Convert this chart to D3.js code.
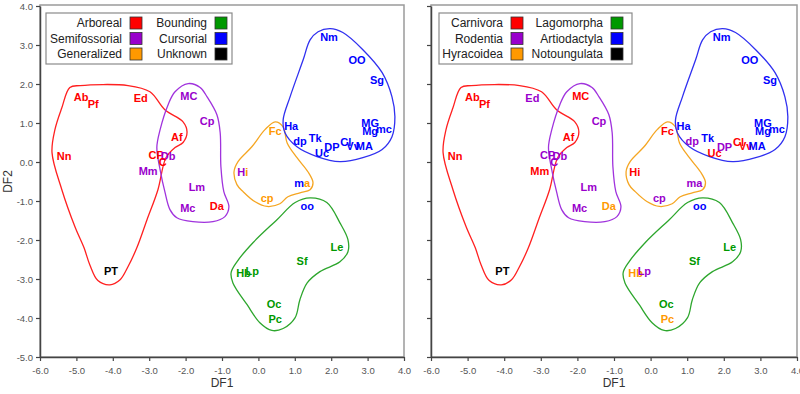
<!DOCTYPE html>
<html>
<head>
<meta charset="utf-8">
<script src="https://cdn.jsdelivr.net/npm/d3@7"></script>
<style>
  body { margin: 0; background: #fff; }
  text { font-family: "Liberation Sans", Arial, sans-serif; }
</style>
</head>
<body>
<script>
var width = 800,
    height = 394;

// specimen labels with DF1 / DF2 scores
var names = ['Ab', 'Pf', 'Ed', 'MC', 'Cp', 'Af', 'Nn', 'CP', 'Db', 'C', 'Mm', 'Lm', 'Mc', 'Da',
    'Hi', 'Fc', 'cp', 'ma', 'Ha', 'dp', 'Tk', 'Uc', 'DP', 'Cl', 'Vv', 'MA', 'MG', 'Mg', 'mc',
    'Sg', 'OO', 'Nm', 'oo', 'Le', 'Sf', 'Hb', 'Lp', 'Oc', 'Pc', 'PT'];
var df1 = [-4.87, -4.54, -3.23, -1.91, -1.41, -2.24, -5.34, -2.81, -2.48, -2.63, -3.03, -1.69, -1.94, -1.14,
    -0.43, 0.46, 0.24, 1.20, 0.90, 1.14, 1.56, 1.75, 2.02, 2.40, 2.60, 2.91, 3.07, 3.07, 3.45,
    3.26, 2.71, 1.94, 1.34, 2.16, 1.20, -0.41, -0.17, 0.43, 0.46, -4.05];
var df2 = [1.67, 1.49, 1.65, 1.70, 1.06, 0.65, 0.16, 0.19, 0.16, 0.01, -0.22, -0.63, -1.17, -1.12,
    -0.27, 0.80, -0.92, -0.53, 0.91, 0.55, 0.62, 0.24, 0.39, 0.50, 0.40, 0.42, 1.00, 0.80, 0.85,
    2.09, 2.62, 3.21, -1.14, -2.17, -2.53, -2.84, -2.80, -3.64, -4.02, -2.79];
var locomotion = ['Arboreal', 'Arboreal', 'Arboreal', 'Semifossorial', 'Semifossorial', 'Arboreal', 'Arboreal',
    'Arboreal', 'Semifossorial', 'Arboreal', 'Semifossorial', 'Semifossorial', 'Semifossorial', 'Arboreal',
    'Semifossorial', 'Generalized', 'Generalized', 'Cursorial', 'Cursorial', 'Cursorial', 'Cursorial',
    'Cursorial', 'Cursorial', 'Cursorial', 'Cursorial', 'Cursorial', 'Cursorial', 'Cursorial', 'Cursorial',
    'Cursorial', 'Cursorial', 'Cursorial', 'Cursorial', 'Bounding', 'Bounding', 'Bounding', 'Bounding',
    'Bounding', 'Bounding', 'Unknown'];
var taxon = ['Carnivora', 'Carnivora', 'Rodentia', 'Carnivora', 'Rodentia', 'Carnivora', 'Carnivora',
    'Rodentia', 'Rodentia', 'Rodentia', 'Carnivora', 'Rodentia', 'Rodentia', 'Hyracoidea',
    'Carnivora', 'Carnivora', 'Rodentia', 'Rodentia', 'Artiodactyla', 'Rodentia', 'Artiodactyla',
    'Carnivora', 'Rodentia', 'Carnivora', 'Carnivora', 'Artiodactyla', 'Artiodactyla', 'Artiodactyla',
    'Artiodactyla', 'Artiodactyla', 'Artiodactyla', 'Artiodactyla', 'Artiodactyla', 'Lagomorpha',
    'Lagomorpha', 'Hyracoidea', 'Rodentia', 'Lagomorpha', 'Hyracoidea', 'Notoungulata'];
// labels whose tail letters sit under another group's colour in the locomotion panel
var splitNames = ['Hi', 'ma'];
var splitAt = [1, 1];
var splitLoc = ['Generalized', 'Generalized'];

var locGroups = ['Arboreal', 'Semifossorial', 'Generalized', 'Bounding', 'Cursorial', 'Unknown'];
var taxGroups = ['Carnivora', 'Rodentia', 'Hyracoidea', 'Lagomorpha', 'Artiodactyla', 'Notoungulata'];
var groupColors = ['#ff0000', '#9900cc', '#ff9900', '#009900', '#0000ff', '#000000'];
var hullColors = ['#ff2020', '#a033dd', '#f5a623', '#2da62d', '#3030f0'];

// outlines of the locomotion groups (DF1, DF2)
var hullRed = [[-5.18, 1.91], [-4.90, 1.96], [-3.58, 1.96], [-2.98, 1.80], [-2.57, 1.34], [-2.07, 1.03],
    [-1.96, 0.77], [-2.07, 0.50], [-2.29, 0.37], [-2.54, 0.11], [-2.76, -0.71], [-3.06, -1.48],
    [-3.34, -2.20], [-3.58, -2.68], [-3.80, -3.02], [-4.08, -3.15], [-4.41, -3.04], [-4.63, -2.64],
    [-4.79, -2.20], [-5.04, -1.66], [-5.40, -0.71], [-5.67, 0.24], [-5.59, 0.83], [-5.40, 1.39]];
var hullPurple = [[-1.93, 2.01], [-1.60, 1.91], [-1.41, 1.67], [-1.14, 1.21], [-1.05, 0.75], [-1.03, -0.12],
    [-0.95, -0.76], [-0.81, -1.15], [-0.92, -1.40], [-1.25, -1.53], [-1.80, -1.53], [-2.24, -1.43],
    [-2.43, -1.22], [-2.57, -0.76], [-2.70, -0.20], [-2.79, 0.37], [-2.70, 0.83], [-2.48, 1.47], [-2.29, 1.80]];
var hullOrange = [[0.46, 1.03], [0.68, 0.90], [0.79, 0.49], [1.06, 0.11], [1.36, -0.25], [1.50, -0.53],
    [1.42, -0.71], [1.14, -0.79], [0.81, -0.89], [0.59, -1.07], [0.24, -1.14], [-0.09, -1.02],
    [-0.42, -0.76], [-0.59, -0.58], [-0.67, -0.25], [-0.56, 0.01], [-0.18, 0.39], [0.18, 0.83]];
var hullGreen = [[1.42, -0.92], [1.88, -1.04], [2.24, -1.56], [2.46, -1.99], [2.46, -2.30], [2.24, -2.56],
    [1.69, -2.81], [1.34, -3.10], [1.14, -3.53], [1.01, -3.99], [0.68, -4.27], [0.37, -4.32],
    [0.04, -4.12], [-0.31, -3.66], [-0.70, -3.10], [-0.75, -2.84], [-0.59, -2.56], [-0.15, -2.07],
    [0.51, -1.48], [1.01, -1.04]];
var hullBlue = [[1.97, 3.42], [2.32, 3.32], [2.87, 2.88], [3.40, 2.29], [3.67, 1.67], [3.75, 1.16],
    [3.67, 0.65], [3.40, 0.32], [2.87, 0.11], [2.24, 0.01], [1.61, 0.14], [1.06, 0.39], [0.73, 0.75],
    [0.68, 1.08], [0.87, 1.67], [1.23, 2.62], [1.42, 3.13], [1.64, 3.34]];
var hulls = [hullRed, hullPurple, hullOrange, hullGreen, hullBlue];

var xTicks = [-6, -5, -4, -3, -2, -1, 0, 1, 2, 3, 4];
var yTicks = [-5, -4, -3, -2, -1, 0, 1, 2, 3, 4];

var svg = d3.select('body')
    .append('svg')
    .attr('width', width)
    .attr('height', height);

var panels = [
    { left: 40, right: 404, groups: locGroups, key: locomotion, yLabels: true,
      legend: { x0: 46, x1: 232, col1: 122, col2: 207 }, split: true },
    { left: 431, right: 797, groups: taxGroups, key: taxon, yLabels: false,
      legend: { x0: 439, x1: 632, col1: 503, col2: 603 }, split: false }
];

var plotTop = 6, plotBottom = 357;
var fmt = function (v) { return d3.format('.1f')(v).replace('\u2212', '-'); };

panels.forEach(function (p) {
    var x = d3.scaleLinear().domain([-6, 4]).range([p.left, p.right]);
    var y = d3.scaleLinear().domain([-5, 4]).range([plotBottom, plotTop]);
    var color = d3.scaleOrdinal().domain(p.groups).range(groupColors);
    var g = svg.append('g');

    // frame
    g.append('rect')
        .attr('x', p.left)
        .attr('y', plotTop - 1)
        .attr('width', p.right - p.left)
        .attr('height', plotBottom - plotTop + 1)
        .attr('fill', 'none')
        .attr('stroke', '#9a9a9a')
        .attr('stroke-width', 1.5);

    var xAxis = g.append('g')
        .attr('transform', 'translate(0,' + plotBottom + ')')
        .call(d3.axisBottom(x).tickValues(xTicks).tickFormat(fmt).tickSize(4).tickSizeOuter(0));
    var yAxis = g.append('g')
        .attr('transform', 'translate(' + p.left + ',0)')
        .call(d3.axisLeft(y).tickValues(yTicks).tickSize(4).tickSizeOuter(0)
            .tickFormat(p.yLabels ? fmt : ''));
    [xAxis, yAxis].forEach(function (a) {
        a.select('.domain').attr('stroke', '#444').attr('stroke-width', 1.5);
        a.selectAll('.tick line').attr('stroke', '#444').attr('stroke-width', 1.2);
        a.selectAll('.tick text')
            .attr('fill', '#555')
            .style('font-size', '9.5px')
            .style('font-family', '"Liberation Sans", Arial, sans-serif');
    });
    xAxis.selectAll('.tick text').attr('dy', '1.05em');

    g.append('text')
        .attr('x', (p.left + p.right) / 2)
        .attr('y', 387)
        .attr('text-anchor', 'middle')
        .attr('fill', '#333')
        .style('font-size', '12px')
        .text('DF1');
    if (p.yLabels) {
        g.append('text')
            .attr('transform', 'translate(12,' + (plotTop + plotBottom) / 2 + ') rotate(-90)')
            .attr('text-anchor', 'middle')
            .attr('fill', '#333')
            .style('font-size', '12px')
            .text('DF2');
    }

    // group outlines
    var line = d3.line()
        .x(function (d) { return x(d[0]); })
        .y(function (d) { return y(d[1]); })
        .curve(d3.curveCatmullRomClosed.alpha(0.5));
    g.selectAll('path.hull')
        .data(hulls)
        .enter()
        .append('path')
        .attr('class', 'hull')
        .attr('d', line)
        .attr('fill', 'none')
        .attr('stroke', function (d, i) { return hullColors[i]; })
        .attr('stroke-width', 1.3);

    // specimen labels
    var labels = g.selectAll('text.spec')
        .data(names)
        .enter()
        .append('text')
        .attr('class', 'spec')
        .attr('x', function (d, i) { return x(df1[i]); })
        .attr('y', function (d, i) { return y(df2[i]); })
        .attr('dy', '0.36em')
        .attr('text-anchor', 'middle')
        .attr('fill', function (d, i) { return color(p.key[i]); })
        .style('font-size', '11px')
        .style('font-weight', 'bold');
    labels.each(function (d) {
        var el = d3.select(this);
        var s = splitNames.indexOf(d);
        if (p.split && s >= 0) {
            el.append('tspan').text(d.slice(0, splitAt[s]));
            el.append('tspan').attr('fill', color(splitLoc[s])).text(d.slice(splitAt[s]));
        } else {
            el.text(d);
        }
    });

    // legend
    var L = p.legend;
    g.append('rect')
        .attr('x', L.x0)
        .attr('y', 13)
        .attr('width', L.x1 - L.x0)
        .attr('height', 51)
        .attr('fill', '#fff')
        .attr('stroke', '#8a8a8a')
        .attr('stroke-width', 1.2);
    var item = g.selectAll('g.leg')
        .data(p.groups)
        .enter()
        .append('g')
        .attr('class', 'leg')
        .attr('transform', function (d, i) {
            return 'translate(' + (i < 3 ? L.col1 : L.col2) + ',' + (23 + (i % 3) * 15.5) + ')';
        });
    item.append('text')
        .attr('text-anchor', 'end')
        .attr('dy', '0.36em')
        .attr('fill', '#222')
        .style('font-size', '12px')
        .text(function (d) { return d; });
    item.append('rect')
        .attr('x', 8)
        .attr('y', -6)
        .attr('width', 12)
        .attr('height', 12)
        .attr('fill', function (d) { return color(d); })
        .attr('stroke', '#333')
        .attr('stroke-width', 0.8);
});
</script>
</body>
</html>
